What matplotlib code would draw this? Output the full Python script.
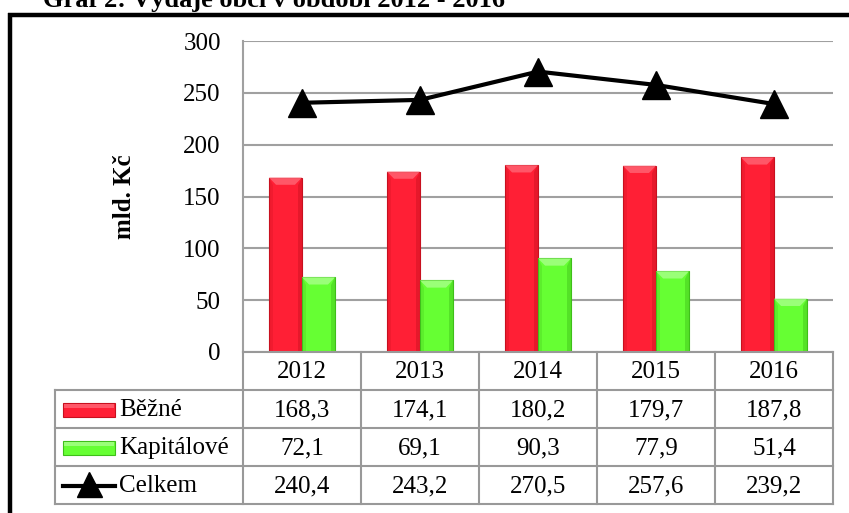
import matplotlib
matplotlib.use("Agg")
import matplotlib.pyplot as plt
from matplotlib.patches import Polygon, Rectangle
from matplotlib.lines import Line2D
import numpy as np

years = ["2012", "2013", "2014", "2015", "2016"]
bezne = [168.3, 174.1, 180.2, 179.7, 187.8]
kapitalove = [72.1, 69.1, 90.3, 77.9, 51.4]
celkem = [240.4, 243.2, 270.5, 257.6, 239.2]
series_names = ["Běžné", "Kapitálové", "Celkem"]
yticks = [0, 50, 100, 150, 200, 250, 300]
title = "Graf 2: Výdaje obcí v období 2012 - 2016"
ylabel = "mld. Kč"

def fmt(v):
    return f"{v:.1f}".replace(".", ",")

plt.rcParams['font.family'] = ['Liberation Serif', 'DejaVu Serif']

W, H = 849, 513
fig = plt.figure(figsize=(W / 100, H / 100), dpi=100)

# pixel layout
px_left, px_right, px_top, px_bottom = 243, 833, 41, 352
ax = fig.add_axes([px_left / W, 1 - px_bottom / H, (px_right - px_left) / W, (px_bottom - px_top) / H])

red = "#FF1F35"
red_dark = "#C8101F"
red_light = "#FF6675"
green = "#66FF33"
green_dark = "#3FBF1A"
green_light = "#A8FF8A"

x = np.arange(len(years))
bw = 0.28
b1 = ax.bar(x - bw / 2, bezne, bw, color=red, edgecolor=red_dark, linewidth=0.8, zorder=3)
b2 = ax.bar(x + bw / 2, kapitalove, bw, color=green, edgecolor=green_dark, linewidth=0.8, zorder=3)

# bevel effect
bx = 0.06
by = 7.0
for bars, light, dark in ((b1, red_light, red_dark), (b2, green_light, green_dark)):
    for p in bars:
        x0, w, h = p.get_x(), p.get_width(), p.get_height()
        ax.add_patch(Polygon([(x0, h), (x0 + w, h), (x0 + w - bx, h - by), (x0 + bx, h - by)],
                             closed=True, facecolor=light, edgecolor='none', zorder=4, alpha=0.8))
        ax.add_patch(Polygon([(x0 + w, h), (x0 + w, 0), (x0 + w - bx * 0.6, 0), (x0 + w - bx * 0.6, h - by)],
                             closed=True, facecolor=dark, edgecolor='none', zorder=4, alpha=0.45))
        ax.add_patch(Polygon([(x0, h), (x0, 0), (x0 + bx * 0.6, 0), (x0 + bx * 0.6, h - by)],
                             closed=True, facecolor=dark, edgecolor='none', zorder=4, alpha=0.25))

ax.plot(x, celkem, color="black", linewidth=3, marker="^", markersize=20, zorder=5)

ax.set_xlim(-0.5, len(years) - 0.5)
ax.set_ylim(0, 300)
ax.set_yticks(yticks)
ax.set_yticklabels([str(t) for t in yticks], fontsize=18)
ax.set_xticks([])
ax.tick_params(axis='y', length=0, pad=16)
ax.grid(axis='y', color="#A0A0A0", linewidth=1.5, zorder=0)
for s in ("top", "right", "bottom"):
    ax.spines[s].set_visible(False)
ax.spines["left"].set_color("#A0A0A0")
ax.spines["left"].set_linewidth(1.5)
ax.set_axisbelow(True)

ov2 = fig.add_axes([0, 0, 1, 1], zorder=10)
ov2.set_xlim(0, W)
ov2.set_ylim(H, 0)
ov2.axis("off")
ov2.patch.set_alpha(0)

# outer black frame
ov2.plot([10, 10], [13, H + 5], color="black", linewidth=3.2, solid_capstyle="butt")
ov2.plot([8.4, W + 5], [14.5, 14.5], color="black", linewidth=3.2, solid_capstyle="butt")

# title (cut at the top edge as in the original)
ov2.text(43, 7, title, fontsize=19, fontweight="bold", ha="left", va="baseline")

# y label
ov2.text(125, 197, ylabel, fontsize=18, fontweight="bold", rotation=90, ha="center", va="center")

# table
gc = "#999999"
glw = 1.5
table_left = 55
col_w = (px_right - px_left) / len(years)
row_h = 38
row_edges = [px_bottom + i * row_h for i in range(5)]
ov2.plot([px_left, px_right], [px_bottom, px_bottom], color=gc, lw=glw)
for i in range(1, 5):
    ov2.plot([table_left, px_right], [row_edges[i], row_edges[i]], color=gc, lw=glw)
for j in range(len(years) + 1):
    xx = px_left + j * col_w
    ov2.plot([xx, xx], [px_bottom, row_edges[-1]], color=gc, lw=glw)
ov2.plot([table_left, table_left], [row_edges[1], row_edges[-1]], color=gc, lw=glw)

fs = 18
for j, yr in enumerate(years):
    cx = px_left + (j + 0.5) * col_w
    ov2.text(cx, px_bottom + row_h / 2 + 1, yr, fontsize=fs, ha="center", va="center")
    for i, vals in enumerate((bezne, kapitalove, celkem)):
        ov2.text(cx, row_edges[i + 1] + row_h / 2 + 1, fmt(vals[j]), fontsize=fs, ha="center", va="center")

# legend keys
for i, name in enumerate(series_names):
    cy = row_edges[i + 1] + row_h / 2
    if i < 2:
        fc, dk, lt = (red, red_dark, red_light) if i == 0 else (green, green_dark, green_light)
        ov2.add_patch(Rectangle((63, cy - 6), 52, 14, facecolor=fc, edgecolor=dk, lw=0.8))
        ov2.add_patch(Rectangle((64, cy - 5), 50, 4, facecolor=lt, edgecolor='none', alpha=0.8))
    else:
        ov2.add_line(Line2D([63, 115], [cy + 1, cy + 1], color="black", lw=3))
        ov2.add_line(Line2D([89], [cy - 1], color="black", marker="^", markersize=18, lw=0))
    ov2.text(119, cy + 1, name, fontsize=fs, ha="left", va="center")

fig.savefig("out.png", dpi=100)
